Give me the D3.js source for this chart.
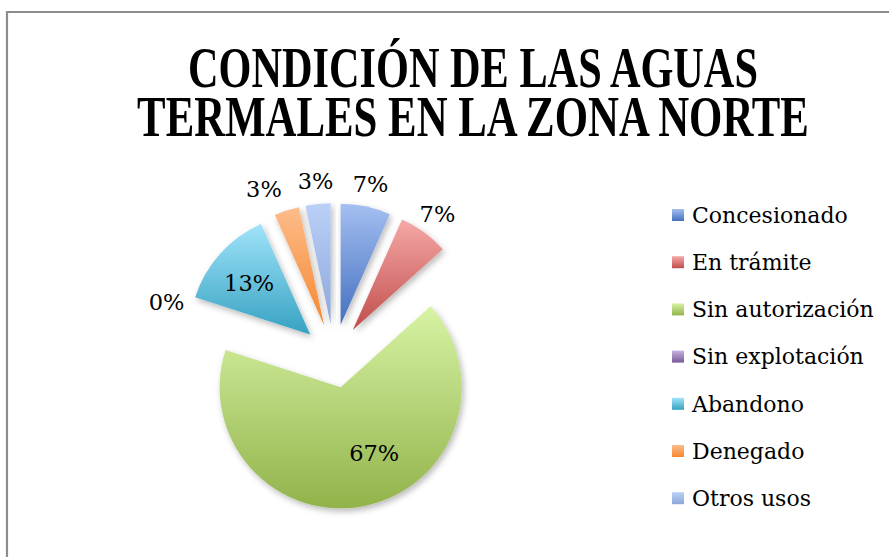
<!DOCTYPE html>
<html>
<head>
<meta charset="utf-8">
<script src="https://cdn.jsdelivr.net/npm/d3@7"></script>
<style>
html,body{margin:0;padding:0;background:#fff;}
svg{display:block;}
</style>
</head>
<body>
<svg id="chart" width="889" height="557"></svg>
<script>
const titleLines = ["CONDICIÓN DE LAS AGUAS", "TERMALES EN LA ZONA NORTE"];
const categories = ["Concesionado", "En trámite", "Sin autorización", "Sin explotación", "Abandono", "Denegado", "Otros usos"];
const counts = [2, 2, 20, 0, 4, 1, 1];
const colorsLight = ["#a4bff1", "#f5a8a7", "#d7f3a4", "#c6b3e1", "#a0e3fa", "#fdbc8b", "#bad0f7"];
const colorsDark  = ["#4470bf", "#c04e4b", "#92b34b", "#775a99", "#36a2c1", "#f5872f", "#8ca7d9"];

const svg = d3.select("#chart");
const W = 889, H = 557;
const defs = svg.append("defs");

// frame
svg.append("path").attr("d", `M7,${H+5}V12H${W+5}`).attr("fill","none").attr("stroke","#8c8c8c").attr("stroke-width",2.2);

// title (condensed by horizontal scaling to the reference widths)
const titleY = [87, 136];
const titleW = [570, 672];
titleLines.forEach((t,i)=>{
  const g = svg.append("g");
  const tx = g.append("text").attr("x", 0).attr("y", 0).attr("text-anchor","middle")
    .attr("font-family","'Liberation Serif','Times New Roman',serif").attr("font-weight","bold")
    .attr("font-size",58).attr("fill","#000").text(t);
  const natural = tx.node().getComputedTextLength();
  g.attr("transform", `translate(473,${titleY[i]}) scale(${titleW[i]/natural},1)`);
});

// gradients
categories.forEach((c,i)=>{
  const g = defs.append("linearGradient").attr("id","g"+i).attr("x1",0).attr("y1",0).attr("x2",0).attr("y2",1);
  g.append("stop").attr("offset","0%").attr("stop-color",colorsLight[i]);
  g.append("stop").attr("offset","100%").attr("stop-color",colorsDark[i]);
});
const f = defs.append("filter").attr("id","sh").attr("x","-20%").attr("y","-20%").attr("width","140%").attr("height","140%");
f.append("feDropShadow").attr("dx",2).attr("dy",3).attr("stdDeviation",3).attr("flood-color","#000").attr("flood-opacity",0.28);

const cx = 334, cy = 356, R = 121, explode = 32;
const total = d3.sum(counts);
const pie = d3.pie().sort(null).value(d=>d)(counts);
const arc = d3.arc().innerRadius(0).outerRadius(R);
const dir = a => [Math.sin(a), -Math.cos(a)];

const pg = svg.append("g").attr("transform",`translate(${cx},${cy})`);
pg.selectAll("path").data(pie).join("path")
  .attr("transform", d=>{ const m=(d.startAngle+d.endAngle)/2, v=dir(m); return `translate(${v[0]*explode},${v[1]*explode})`; })
  .attr("d", arc)
  .attr("fill", (d,i)=>`url(#g${i})`)
  .attr("filter","url(#sh)");

// labels
const fmt = v => Math.round(v/total*100) + "%";
const labels = pie.map((d,i)=>{
  const m=(d.startAngle+d.endAngle)/2, v=dir(m);
  const share = d.value/total;
  let x,y;
  if (share >= 0.1) {
    const k = share > 0.5 ? 0.62 : 0.68;
    x = v[0]*explode + v[0]*R*k; y = v[1]*explode + v[1]*R*k;
    if (share > 0.5) { x += 18; y -= 8; } else { y += 4; }
  } else {
    x = v[0]*176; y = v[1]*176;
  }
  return {i, x, y, text: fmt(d.value), outside: share < 0.1};
});
const lg = svg.append("g").attr("transform",`translate(${cx},${cy})`);
const lt = lg.selectAll("text").data(labels).join("text")
  .attr("x",d=>d.x).attr("y",d=>d.y).attr("text-anchor","middle").attr("dy","0.35em")
  .attr("font-family","'DejaVu Serif',serif").attr("font-size",22.5).attr("fill","#000")
  .text(d=>d.text);
// simple collision resolution: push the left label of an overlapping pair further left
const nodes = lt.nodes();
const gap = 16;
for (let pass=0; pass<3; pass++) {
  for (let a=0;a<nodes.length;a++) for (let b=0;b<nodes.length;b++) {
    if (a===b || !labels[a].outside || !labels[b].outside) continue;
    const ba = nodes[a].getBBox(), bb = nodes[b].getBBox();
    if (ba.x < bb.x && Math.abs(ba.y-bb.y) < ba.height && ba.x+ba.width+gap > bb.x) {
      labels[a].x -= (ba.x+ba.width+gap - bb.x);
      d3.select(nodes[a]).attr("x", labels[a].x);
    }
  }
}

// legend
const leg = svg.append("g");
categories.forEach((c,i)=>{
  const y = 215 + i*47.2;
  leg.append("rect").attr("x",672).attr("y",y-6).attr("width",12).attr("height",12).attr("fill",`url(#g${i})`);
  leg.append("text").attr("x",692).attr("y",y).attr("dy","0.35em")
    .attr("font-family","'DejaVu Serif',serif").attr("font-size",22).attr("fill","#000").text(c);
});
</script>
</body>
</html>
